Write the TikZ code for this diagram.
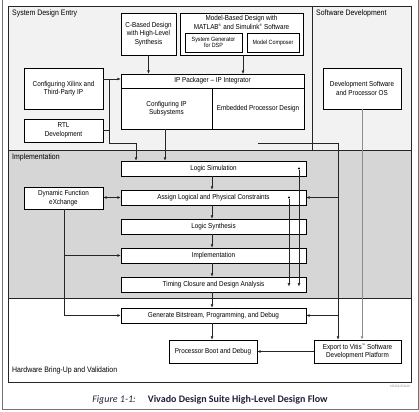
\documentclass[tikz,border=0pt]{standalone}
\usepackage{fontspec}
\setmainfont{Liberation Sans}[FakeStretch=0.88]
\newfontfamily\capfont{Carlito}
\usetikzlibrary{arrows.meta}
\definecolor{capc}{HTML}{202038}
\newcommand{\smalltm}{\textsuperscript{\fontsize{3.6}{4}\selectfont ™}}
\newcommand{\smallreg}{\textsuperscript{\fontsize{3.6}{4}\selectfont ®}}
\begin{document}
\begin{tikzpicture}[x=1pt,y=-1pt,
  box/.style={draw=black, line width=0.6pt, fill=white, inner sep=0pt, align=center, font=\fontsize{7.2}{8.5}\selectfont},
  sbox/.style={box, font=\fontsize{6.1}{6.6}\selectfont},
  frame/.style={draw=black!85, line width=0.9pt},
  sect/.style={anchor=north west, inner sep=0pt, font=\fontsize{7.9}{9}\selectfont},
  con/.style={draw=black!85, line width=0.5pt},
  arr/.style={con, -{Latex[length=3.4pt,width=2.8pt]}},
  garr/.style={draw=black!45, line width=0.9pt, -{Latex[length=3.4pt,width=2.8pt]}},
  dot/.style={circle, fill=black, inner sep=0pt, minimum size=2.3pt}
]
\useasboundingbox (0,0) rectangle (419,411);
% page border
\draw[draw=black!55, line width=0.8pt] (2,0) -- (2,409) -- (418,409) -- (418,0);
% sections
\filldraw[frame, fill=black!5] (8,6) rectangle (312,150);
\filldraw[frame, fill=black!5] (312,6) rectangle (411,150);
\filldraw[frame, fill=black!16] (8,150) rectangle (411,298);
\filldraw[frame, fill=white] (8,298) rectangle (411,382);
\node[sect] (tsde) at (12,10) {System Design Entry};
\node[sect] (tswd) at (316,10) {Software Development};
\node[sect] (timpl) at (12,154) {Implementation};
\node[sect, anchor=south west] (thw) at (12,374) {Hardware Bring-Up and Validation};

% System design entry boxes
\node[box, minimum width=55pt, minimum height=42pt] (cbased) at (148.5,34) {C-Based Design\\with High-Level\\Synthesis};
\node[box, minimum width=123pt, minimum height=42pt] (model) at (241.5,34) {};
\node[inner sep=0pt, align=center, font=\fontsize{7.2}{8.3}\selectfont] (modeltxt) at (241.5,22.5) {Model-Based Design with\\MATLAB\smallreg{} and Simulink\smallreg{} Software};
\node[sbox, minimum width=57pt, minimum height=19pt] (sysgen) at (213.5,42.5) {System Generator\\for DSP};
\node[sbox, minimum width=52pt, minimum height=19pt] (mcomp) at (273,42.5) {Model Composer};

\node[box, minimum width=183pt, minimum height=55pt] (ippack) at (212.5,101.5) {};
\node[box, minimum width=183pt, minimum height=14pt] (hdr) at (212.5,81) {IP Packager -- IP Integrator};
\node[box, minimum width=91pt, minimum height=41pt] (cfgip) at (166.5,108.5) {Configuring IP\\Subsystems};
\node[box, minimum width=92pt, minimum height=41pt] (embed) at (258,108.5) {Embedded Processor Design};

\node[box, minimum width=79pt, minimum height=41pt] (xilinx) at (63.5,88.5) {Configuring Xilinx and\\Third-Party IP};
\node[box, minimum width=79pt, minimum height=23pt] (rtl) at (63.5,130.5) {RTL\\Development};
\node[box, minimum width=78pt, minimum height=41pt] (devsw) at (362,88.5) {Development Software\\and Processor OS};

% Implementation boxes
\node[box, minimum width=185pt, minimum height=15pt] (lsim) at (213.5,168.5) {Logic Simulation};
\node[box, minimum width=185pt, minimum height=15pt] (assign) at (213.5,197.5) {Assign Logical and Physical Constraints};
\node[box, minimum width=185pt, minimum height=15pt] (lsyn) at (213.5,226.5) {Logic Synthesis};
\node[box, minimum width=185pt, minimum height=15pt] (impl) at (213.5,255.5) {Implementation};
\node[box, minimum width=185pt, minimum height=15pt] (timing) at (213.5,284.5) {Timing Closure and Design Analysis};
\node[box, minimum width=185pt, minimum height=15pt] (gen) at (213.5,315.5) {Generate Bitstream, Programming, and Debug};
\node[box, minimum width=79pt, minimum height=22pt] (dfx) at (63.5,198) {Dynamic Function\\eXchange};

% Hardware
\node[box, minimum width=88pt, minimum height=23pt] (pboot) at (213,351.5) {Processor Boot and Debug};
\node[box, minimum width=87pt, minimum height=23pt] (vitis) at (357.5,351.5) {Export to Vitis\smalltm{} Software\\Development Platform};

% coordinates
\coordinate (xj) at (109,79);
\coordinate (j1) at (109,143);
\coordinate (j2) at (136,143);
\coordinate (e1) at (258,143);
\coordinate (e2) at (338,143);
\coordinate (cx) at (165,129);
\coordinate (d1) at (64,255.5);
\coordinate (d2) at (64,315.5);
\coordinate (f1) at (212,0);
\coordinate (k1) at (299,168.5);
\coordinate (k2) at (289,197.5);
\coordinate (k3) at (299,286.5);
\coordinate (k4) at (289,286.5);

% connectors top
\draw[arr] (cbased.south) -- (cbased.south |- hdr.north);
\draw[arr] (model.south -| 243,0) -- (243,74);
\draw[arr] (xilinx.east |- xj) -- (hdr.west |- xj);
\draw[con] (xj) -- (j1) -- (j2);
\draw[arr] (j2) -- (j2 |- lsim.north);
\draw[con] (rtl.east) -- (xj |- rtl.east);
\draw[arr] (cx) -- (cx |- lsim.north);
\draw[con] (embed.south |- e1) -- (e1) -- (e2);
\draw[arr] (e2) -- (e2 |- vitis.north);
\draw[arr] (e2 |- assign.east) -- (assign.east);
\draw[arr] (e2 |- gen.east) -- (gen.east);
\draw[garr] (devsw.south) -- (devsw.south |- vitis.north);

% flow
\draw[arr] (f1 |- lsim.south) -- (f1 |- assign.north);
\draw[arr] (f1 |- assign.south) -- (f1 |- lsyn.north);
\draw[arr] (f1 |- lsyn.south) -- (f1 |- impl.north);
\draw[arr] (f1 |- impl.south) -- (f1 |- timing.north);
\draw[arr] (f1 |- timing.south) -- (f1 |- gen.north);
\draw[arr] (f1 |- gen.south) -- (f1 |- pboot.north);

% dots
\node[dot] (dk1) at (k1) {};
\node[dot] (dk2) at (k2) {};
\draw[arr] (dk1) -- (k3);
\draw[arr] (dk2) -- (k4);

% DFX
\draw[con, {Latex[length=3.4pt,width=2.8pt]}-{Latex[length=3.4pt,width=2.8pt]}] (dfx.east |- assign.west) -- (assign.west);
\draw[con] (dfx.south -| d1) -- (d2);
\draw[arr] (d1) -- (impl.west);
\draw[arr] (d2) -- (gen.west);

% hardware
\draw[arr] (vitis.west) -- (pboot.east);

% id and caption
\node[inner sep=0pt, anchor=east, font=\fontsize{3.2}{4}\selectfont, text=black!50] (xid) at (410,386) {X15150-070120};
\node[inner sep=0pt, font=\capfont\fontsize{10}{12}\selectfont, text=capc] (cap) at (210,400) {\textit{Figure 1-1:}\hspace{1.2em}\textbf{Vivado Design Suite High-Level Design Flow}};
\end{tikzpicture}
\end{document}
